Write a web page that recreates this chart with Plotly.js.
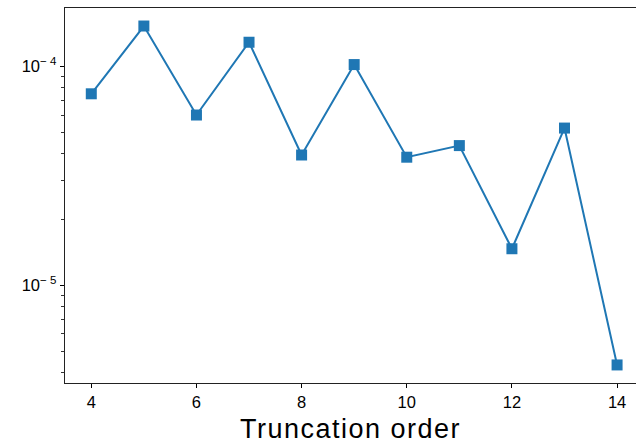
<!DOCTYPE html>
<html>
<head>
<meta charset="utf-8">
<script src="https://cdn.plot.ly/plotly-3.0.1.min.js"></script>
<style>html,body{margin:0;padding:0;background:#fff;}#chart{width:636px;height:447px;}
#chart .xtitle{letter-spacing:1.5px;}</style>
</head>
<body>
<div id="chart"></div>
<script>
const orders = [4, 5, 6, 7, 8, 9, 10, 11, 12, 13, 14];
const errors = [7.5e-5, 1.53e-4, 6.0e-5, 1.29e-4, 3.94e-5, 1.02e-4, 3.85e-5, 4.35e-5, 1.47e-5, 5.23e-5, 4.33e-6];
const xTickVals = [4, 6, 8, 10, 12, 14];
const yTickVals = [1e-5, 1e-4];
const yTickText = ['10<sup>\u2212 5</sup>', '10<sup>\u2212 4</sup>'];
const xTitle = 'Truncation order';

const trace = {
  x: orders, y: errors, type: 'scatter', mode: 'lines+markers',
  line: {color: '#1f77b4', width: 2},
  marker: {symbol: 'square', size: 11, color: '#1f77b4'}
};
const layout = {
  width: 636, height: 447,
  margin: {l: 65, r: 0, t: 7.5, b: 64},
  paper_bgcolor: '#fff', plot_bgcolor: '#fff',
  font: {family: 'Liberation Sans, Arial, sans-serif', color: '#000'},
  showlegend: false,
  xaxis: {
    range: [3.5, 14.36], tickvals: xTickVals, ticks: 'outside', ticklen: 4, tickwidth: 1,
    tickcolor: '#000', showline: true, linecolor: '#222', linewidth: 1.3, mirror: true,
    showgrid: false, zeroline: false, tickfont: {size: 16.5},
    title: {text: xTitle, font: {size: 27}, standoff: 9}
  },
  yaxis: {
    type: 'log', range: [-5.446, -3.733], tickvals: yTickVals, ticktext: yTickText,
    ticks: 'outside', ticklen: 4, tickwidth: 1, tickcolor: '#000',
    showline: true, linecolor: '#222', linewidth: 1.3, mirror: false,
    showgrid: false, zeroline: false, tickfont: {size: 16.5},
    minor: {ticks: 'outside', ticklen: 2.5, tickcolor: '#000', tickwidth: 0.8, showgrid: false, dtick: 'D1'}
  }
};
Plotly.newPlot('chart', [trace], layout, {displayModeBar: false, staticPlot: true});
</script>
</body>
</html>
